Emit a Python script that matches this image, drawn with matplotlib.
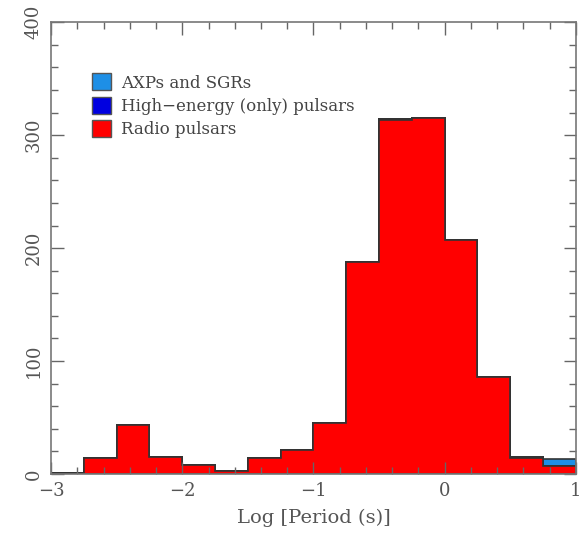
import numpy as np
import matplotlib.pyplot as plt
from matplotlib.ticker import MultipleLocator
from matplotlib.patches import Patch

# log period bins, width 0.25 from -3 to 1
bin_edges = np.arange(-3.0, 1.01, 0.25)
radio = [1, 14, 43, 15, 8, 3, 14, 21, 45, 188, 313, 315, 207, 86, 14, 7]
high_energy = [0, 0, 0, 0, 0, 0, 0, 0, 0, 0, 1, 0, 0, 0, 1, 0]
axps = [0, 0, 0, 0, 0, 0, 0, 0, 0, 0, 0, 0, 0, 0, 0, 6]

labels = ["Radio pulsars", "High\u2212energy (only) pulsars", "AXPs and SGRs"]
colors = ["#ff0000", "#0000e0", "#1e8fe6"]

plt.rcParams['font.family'] = ['DejaVu Serif']

fig = plt.figure(figsize=(5.81, 5.42), dpi=100)
ax = fig.add_axes([0.088, 0.1255, 0.903, 0.8335])

centers = (bin_edges[:-1] + bin_edges[1:]) / 2
ax.hist([centers, centers, centers], bins=bin_edges,
        weights=[radio, high_energy, axps], stacked=True,
        histtype='stepfilled', color=colors, edgecolor='#333333', linewidth=1.2)

ax.set_xlim(-3, 1)
ax.set_ylim(0, 400)
ax.xaxis.set_major_locator(MultipleLocator(1))
ax.xaxis.set_minor_locator(MultipleLocator(0.2))
ax.yaxis.set_major_locator(MultipleLocator(100))
ax.yaxis.set_minor_locator(MultipleLocator(20))
ax.tick_params(which='both', direction='in', top=True, right=True, color='#666666')
ax.tick_params(which='major', length=9, width=1, labelsize=13, labelcolor='#555555', pad=6)
ax.tick_params(which='minor', length=5, width=1)
for lab in ax.get_yticklabels():
    lab.set_rotation(90)
    lab.set_va('center')
for s in ax.spines.values():
    s.set_color('#777777')
    s.set_linewidth(1.2)

ax.set_xlabel("Log [Period (s)]", fontsize=14, color='#555555', labelpad=6)

handles = [Patch(facecolor=colors[2], edgecolor='#555555'),
           Patch(facecolor=colors[1], edgecolor='#555555'),
           Patch(facecolor=colors[0], edgecolor='#555555')]
ax.legend(handles, [labels[2], labels[1], labels[0]], loc='upper left',
          bbox_to_anchor=(0.05, 0.92), frameon=False, fontsize=12,
          handlelength=1.1, handleheight=1.2, handletextpad=0.6, labelspacing=0.3,
          labelcolor='#444444')

fig.savefig("out.png")
